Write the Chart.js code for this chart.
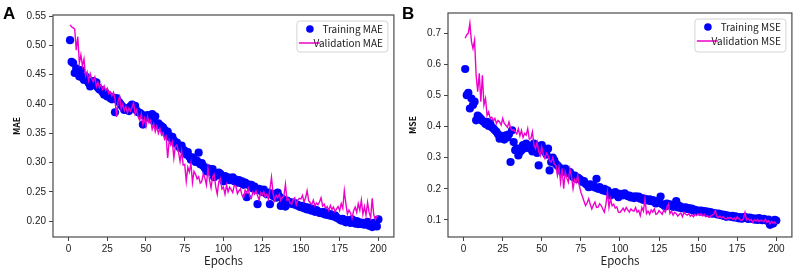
<!DOCTYPE html>
<html>
<head>
<meta charset="utf-8">
<script src="https://cdn.jsdelivr.net/npm/chart.js@4.4.0/dist/chart.umd.min.js"></script>
<style>
  html, body { margin: 0; padding: 0; background: #fff; }
  #wrap { position: relative; width: 796px; height: 269px; overflow: hidden; }
  canvas { position: absolute; top: 0; }
</style>
</head>
<body>
<div id="wrap">
  <canvas id="chartA" width="398" height="269" style="left:0"></canvas>
  <canvas id="chartB" width="398" height="269" style="left:398px"></canvas>
</div>
<script>
// epochs 1..200
const epochs = Array.from({ length: 200 }, (_, i) => i + 1);
const xTicks = [0, 25, 50, 75, 100, 125, 150, 175, 200];
const yTicksMAE = [0.20, 0.25, 0.30, 0.35, 0.40, 0.45, 0.50, 0.55];
const yTicksMSE = [0.1, 0.2, 0.3, 0.4, 0.5, 0.6, 0.7];

// panel A
const trainMAE = [
  0.509, 0.472, 0.470, 0.453, 0.461, 0.452, 0.447, 0.458, 0.445, 0.441,
  0.447, 0.440, 0.436, 0.430, 0.438, 0.439, 0.432, 0.437, 0.428, 0.425,
  0.424, 0.420, 0.416, 0.419, 0.413, 0.414, 0.410, 0.408, 0.411, 0.386,
  0.410, 0.405, 0.402, 0.398, 0.395, 0.390, 0.393, 0.392, 0.388, 0.396,
  0.399, 0.394, 0.397, 0.389, 0.386, 0.385, 0.383, 0.365, 0.380, 0.377,
  0.381, 0.378, 0.375, 0.383, 0.371, 0.379, 0.365, 0.367, 0.364, 0.362,
  0.360, 0.356, 0.350, 0.353, 0.346, 0.342, 0.344, 0.338, 0.333, 0.334,
  0.328, 0.325, 0.329, 0.322, 0.320, 0.314, 0.318, 0.310, 0.305, 0.309,
  0.306, 0.301, 0.303, 0.317, 0.297, 0.299, 0.294, 0.291, 0.285, 0.290,
  0.287, 0.284, 0.289, 0.275, 0.282, 0.279, 0.283, 0.281, 0.276, 0.268,
  0.277, 0.272, 0.275, 0.270, 0.273, 0.275, 0.268, 0.271, 0.266, 0.270,
  0.265, 0.268, 0.262, 0.266, 0.241, 0.263, 0.260, 0.262, 0.256, 0.259,
  0.254, 0.229, 0.255, 0.252, 0.250, 0.254, 0.248, 0.246, 0.249, 0.229,
  0.247, 0.243, 0.245, 0.240, 0.249, 0.242, 0.226, 0.238, 0.236, 0.225,
  0.235, 0.233, 0.230, 0.232, 0.229, 0.231, 0.227, 0.228, 0.225, 0.224,
  0.226, 0.222, 0.224, 0.220, 0.223, 0.219, 0.218, 0.221, 0.216, 0.219,
  0.217, 0.214, 0.215, 0.213, 0.216, 0.211, 0.214, 0.210, 0.212, 0.209,
  0.208, 0.210, 0.206, 0.205, 0.203, 0.201, 0.204, 0.200, 0.198, 0.202,
  0.201, 0.197, 0.203, 0.199, 0.196, 0.200, 0.195, 0.198, 0.195, 0.197,
  0.194, 0.196, 0.199, 0.192, 0.195, 0.190, 0.197, 0.193, 0.191, 0.203
];
const valMAE = [
  0.535, 0.532, 0.530, 0.528, 0.492, 0.515, 0.470, 0.484, 0.465, 0.477,
  0.448, 0.455, 0.440, 0.452, 0.443, 0.438, 0.446, 0.430, 0.437, 0.428,
  0.433, 0.425, 0.431, 0.423, 0.427, 0.418, 0.421, 0.414, 0.420, 0.409,
  0.378, 0.405, 0.413, 0.392, 0.400, 0.389, 0.396, 0.385, 0.393, 0.388,
  0.395, 0.402, 0.383, 0.390, 0.378, 0.372, 0.383, 0.365, 0.375, 0.362,
  0.378, 0.368, 0.372, 0.357, 0.366, 0.353, 0.362, 0.350, 0.358, 0.347,
  0.351, 0.340, 0.345, 0.308, 0.338, 0.330, 0.336, 0.308, 0.328, 0.330,
  0.318, 0.302, 0.320, 0.296, 0.297, 0.268, 0.292, 0.284, 0.299, 0.266,
  0.285, 0.280, 0.272, 0.276, 0.265, 0.268, 0.281, 0.274, 0.262, 0.291,
  0.270, 0.257, 0.276, 0.280, 0.259, 0.246, 0.268, 0.273, 0.255, 0.258,
  0.246, 0.262, 0.250, 0.258, 0.254, 0.249, 0.261, 0.260, 0.247, 0.252,
  0.255, 0.244, 0.240, 0.253, 0.248, 0.256, 0.242, 0.239, 0.250, 0.246,
  0.252, 0.244, 0.236, 0.249, 0.245, 0.250, 0.241, 0.246, 0.238, 0.255,
  0.275, 0.248, 0.235, 0.244, 0.240, 0.246, 0.235, 0.241, 0.243, 0.263,
  0.236, 0.238, 0.231, 0.229, 0.237, 0.240, 0.228, 0.236, 0.239, 0.238,
  0.244, 0.233, 0.240, 0.252, 0.235, 0.232, 0.228, 0.236, 0.226, 0.231,
  0.228, 0.233, 0.240, 0.226, 0.229, 0.222, 0.225, 0.218, 0.227, 0.220,
  0.224, 0.216, 0.221, 0.225, 0.218, 0.230, 0.222, 0.252, 0.230, 0.212,
  0.219, 0.214, 0.205, 0.218, 0.224, 0.215, 0.230, 0.219, 0.236, 0.212,
  0.225, 0.210, 0.232, 0.215, 0.206, 0.239, 0.211, 0.203, 0.208, 0.209
];

// panel B
const trainMSE = [
  0.585, 0.501, 0.508, 0.458, 0.490, 0.469, 0.480, 0.420, 0.435, 0.430,
  0.425, 0.418, 0.415, 0.408, 0.415, 0.402, 0.410, 0.398, 0.394, 0.388,
  0.383, 0.375, 0.361, 0.370, 0.365, 0.358, 0.372, 0.365, 0.375, 0.286,
  0.388, 0.350, 0.324, 0.330, 0.307, 0.318, 0.324, 0.340, 0.330, 0.345,
  0.338, 0.330, 0.334, 0.320, 0.345, 0.340, 0.315, 0.275, 0.330, 0.340,
  0.325, 0.318, 0.310, 0.329, 0.259, 0.286, 0.300, 0.291, 0.280, 0.275,
  0.270, 0.265, 0.254, 0.262, 0.265, 0.258, 0.250, 0.254, 0.245, 0.238,
  0.242, 0.232, 0.236, 0.232, 0.228, 0.222, 0.225, 0.216, 0.212, 0.205,
  0.214, 0.208, 0.211, 0.204, 0.232, 0.200, 0.205, 0.198, 0.195, 0.200,
  0.192, 0.195, 0.188, 0.178, 0.186, 0.184, 0.189, 0.180, 0.173, 0.184,
  0.182, 0.179, 0.185, 0.180, 0.176, 0.178, 0.172, 0.175, 0.170, 0.176,
  0.172, 0.175, 0.168, 0.170, 0.164, 0.168, 0.165, 0.162, 0.166, 0.160,
  0.164, 0.158, 0.153, 0.160, 0.156, 0.175, 0.150, 0.148, 0.143, 0.152,
  0.148, 0.150, 0.145, 0.142, 0.148, 0.160, 0.140, 0.145, 0.138, 0.140,
  0.137, 0.140, 0.135, 0.138, 0.133, 0.136, 0.130, 0.132, 0.128, 0.130,
  0.127, 0.130, 0.126, 0.128, 0.124, 0.127, 0.121, 0.125, 0.120, 0.122,
  0.121, 0.118, 0.120, 0.116, 0.118, 0.113, 0.116, 0.110, 0.114, 0.112,
  0.110, 0.113, 0.108, 0.111, 0.107, 0.105, 0.109, 0.104, 0.107, 0.110,
  0.106, 0.103, 0.107, 0.104, 0.105, 0.101, 0.104, 0.100, 0.106, 0.102,
  0.099, 0.103, 0.100, 0.097, 0.101, 0.084, 0.096, 0.088, 0.100, 0.098
];
const valMSE = [
  0.684, 0.695, 0.700, 0.732, 0.673, 0.651, 0.678, 0.565, 0.512, 0.571,
  0.480, 0.565, 0.469, 0.490, 0.436, 0.447, 0.426, 0.430, 0.418, 0.426,
  0.410, 0.420, 0.415, 0.405, 0.426, 0.410, 0.404, 0.398, 0.415, 0.395,
  0.388, 0.390, 0.383, 0.376, 0.393, 0.370, 0.388, 0.365, 0.378, 0.372,
  0.393, 0.360, 0.361, 0.383, 0.340, 0.329, 0.350, 0.320, 0.307, 0.334,
  0.310, 0.297, 0.315, 0.307, 0.290, 0.286, 0.300, 0.280, 0.275, 0.243,
  0.270, 0.221, 0.265, 0.200, 0.254, 0.235, 0.221, 0.264, 0.240, 0.200,
  0.230, 0.220, 0.243, 0.210, 0.189, 0.175, 0.160, 0.146, 0.155, 0.168,
  0.150, 0.135, 0.148, 0.157, 0.140, 0.141, 0.152, 0.146, 0.135, 0.125,
  0.150, 0.189, 0.140, 0.168, 0.145, 0.150, 0.138, 0.142, 0.125, 0.124,
  0.130, 0.138, 0.128, 0.140, 0.132, 0.125, 0.135, 0.130, 0.128, 0.140,
  0.125, 0.130, 0.114, 0.140, 0.128, 0.168, 0.120, 0.128, 0.118, 0.132,
  0.125, 0.135, 0.118, 0.120, 0.130, 0.124, 0.118, 0.132, 0.125, 0.140,
  0.151, 0.120, 0.128, 0.115, 0.124, 0.120, 0.112, 0.118, 0.122, 0.110,
  0.125, 0.118, 0.115, 0.120, 0.112, 0.116, 0.110, 0.118, 0.114, 0.120,
  0.115, 0.120, 0.113, 0.118, 0.110, 0.114, 0.108, 0.112, 0.115, 0.118,
  0.130, 0.110, 0.108, 0.112, 0.106, 0.110, 0.105, 0.103, 0.108, 0.104,
  0.108, 0.102, 0.106, 0.100, 0.110, 0.104, 0.100, 0.098, 0.104, 0.124,
  0.100, 0.104, 0.098, 0.102, 0.092, 0.100, 0.096, 0.102, 0.095, 0.098,
  0.098, 0.094, 0.102, 0.092, 0.097, 0.087, 0.095, 0.090, 0.093, 0.087
];

const tickFont = { family: '"Liberation Sans", Arial, sans-serif', size: 10 };
const labelFont = '"Noto Sans CJK SC", "Noto Sans", sans-serif';

// box around the plot, panel letter and the legend inside the plot
const framePlugin = {
  id: 'frame',
  afterDraw(chart, args, opts) {
    const { ctx, chartArea: a } = chart;
    ctx.save();
    ctx.strokeStyle = '#4a4a4a';
    ctx.lineWidth = 1.2;
    ctx.strokeRect(a.left, a.top, a.right - a.left, a.bottom - a.top);

    ctx.fillStyle = '#000';
    ctx.font = 'bold 17px "Liberation Sans", Arial, sans-serif';
    ctx.textBaseline = 'alphabetic';
    ctx.textAlign = 'left';
    ctx.fillText(opts.tag, opts.tagX, 18.5);

    const w = 91, h = opts.legendH;
    const bx = a.right - 6 - w, by = a.top + 6;
    ctx.beginPath();
    ctx.roundRect(bx, by, w, h, 3);
    ctx.fillStyle = 'rgba(255,255,255,0.85)';
    ctx.fill();
    ctx.strokeStyle = '#d4d4d4';
    ctx.lineWidth = 1;
    ctx.stroke();

    const ds = chart.data.datasets;
    const y1 = by + 8, y2 = by + 22;
    ctx.fillStyle = ds[0].backgroundColor;
    ctx.beginPath();
    ctx.arc(bx + 13, y1, 3.8, 0, Math.PI * 2);
    ctx.fill();
    ctx.strokeStyle = ds[1].borderColor;
    ctx.lineWidth = 1.5;
    ctx.beginPath();
    ctx.moveTo(bx + 2, y2);
    ctx.lineTo(bx + 23, y2);
    ctx.stroke();

    ctx.fillStyle = '#222';
    ctx.font = '10px ' + labelFont;
    ctx.textAlign = 'right';
    ctx.textBaseline = 'middle';
    ctx.fillText(ds[0].label, bx + w - 5, y1);
    ctx.fillText(ds[1].label, bx + w - 5, y2);
    ctx.restore();
  }
};

function makeChart(id, o) {
  const training = o.train.map((v, i) => ({ x: epochs[i], y: v }));
  const validation = o.val.map((v, i) => ({ x: epochs[i], y: v }));
  return new Chart(document.getElementById(id), {
    type: 'scatter',
    data: {
      datasets: [
        {
          label: o.trainLabel,
          data: training,
          order: 1,
          backgroundColor: '#0000ff',
          borderColor: '#0000ff',
          pointRadius: 4.1,
          pointBorderWidth: 0,
          showLine: false
        },
        {
          type: 'line',
          label: o.valLabel,
          data: validation,
          order: 0,
          borderColor: '#ee00cc',
          borderWidth: 1.4,
          pointRadius: 0,
          fill: false,
          tension: 0
        }
      ]
    },
    options: {
      responsive: false,
      animation: false,
      devicePixelRatio: 1,
      layout: { padding: { left: 0, right: o.padRight, top: o.padTop, bottom: 0 } },
      plugins: {
        legend: { display: false },
        tooltip: { enabled: false },
        frame: { tag: o.tag, tagX: o.tagX, legendH: o.legendH }
      },
      scales: {
        x: {
          type: 'linear',
          min: -10,
          max: 210,
          afterBuildTicks: s => { s.ticks = xTicks.map(v => ({ value: v })); },
          afterFit: s => { s.height = 32; },
          grid: { drawOnChartArea: false, tickLength: 4, color: '#444' },
          border: { display: false },
          ticks: { padding: 2, color: '#222', font: tickFont, maxRotation: 0, callback: v => String(v) },
          title: { display: true, text: 'Epochs', color: '#222', font: { family: labelFont, size: 11.5 }, padding: { top: 0, bottom: 1 } }
        },
        y: {
          min: o.yMin,
          max: o.yMax,
          afterBuildTicks: s => { s.ticks = o.yTicks.map(v => ({ value: v })); },
          afterFit: s => { s.width = o.yWidth; },
          grid: { drawOnChartArea: false, tickLength: 4, color: '#444' },
          border: { display: false },
          ticks: { padding: 3, color: '#222', font: tickFont, callback: v => v.toFixed(o.digits) },
          title: { display: true, text: o.yTitle, color: '#111', font: { family: labelFont, size: 8.5, weight: 'bold' }, padding: { top: o.titlePad, bottom: 0 } }
        }
      }
    },
    plugins: [framePlugin]
  });
}

makeChart('chartA', {
  train: trainMAE, val: valMAE,
  trainLabel: 'Training MAE', valLabel: 'Validation MAE',
  yTitle: 'MAE', yTicks: yTicksMAE, yMin: 0.173, yMax: 0.552, digits: 2,
  yWidth: 53, padRight: 3, padTop: 15, titlePad: 12,
  tag: 'A', tagX: 3, legendH: 31
});

makeChart('chartB', {
  train: trainMSE, val: valMSE,
  trainLabel: 'Training MSE', valLabel: 'Validation MSE',
  yTitle: 'MSE', yTicks: yTicksMSE, yMin: 0.045, yMax: 0.765, digits: 1,
  yWidth: 50, padRight: 2, padTop: 13, titlePad: 10,
  tag: 'B', tagX: 4, legendH: 33
});
</script>
</body>
</html>
